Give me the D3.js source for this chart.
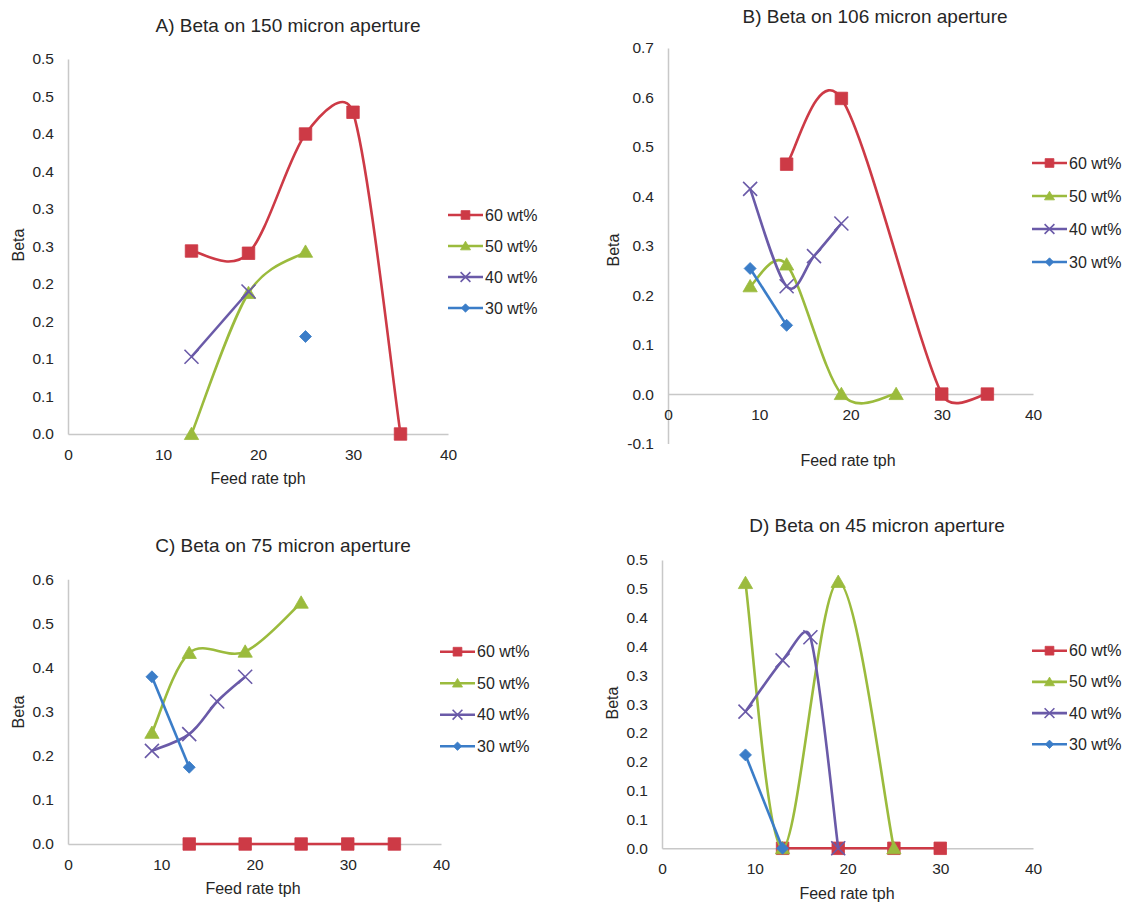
<!DOCTYPE html>
<html>
<head>
<meta charset="utf-8">
<script src="https://cdn.jsdelivr.net/npm/d3@7"></script>
<style>
  body { margin: 0; background: #fff; }
  svg text { font-family: "Liberation Sans", Arial, sans-serif; fill: #262626; }
</style>
</head>
<body>
<svg id="chart" width="1135" height="903"></svg>
<script>
// ---- shared categories ----
const seriesNames = ["60 wt%", "50 wt%", "40 wt%", "30 wt%"];
const xTickValues = [0, 10, 20, 30, 40];

// ---- A) 150 micron aperture ----
const A_feed60 = [13, 19, 25, 30, 35];
const A_beta60 = [0.244, 0.241, 0.400, 0.429, 0.0];
const A_feed50 = [13, 19, 25];
const A_beta50 = [0.0, 0.188, 0.243];
const A_feed40 = [13, 19];
const A_beta40 = [0.103, 0.190];
const A_feed30 = [25];
const A_beta30 = [0.130];
const A_yTicks = [0, 0.05, 0.1, 0.15, 0.2, 0.25, 0.3, 0.35, 0.4, 0.45, 0.5];
const A_yLabels = ["0.0", "0.1", "0.1", "0.2", "0.2", "0.3", "0.3", "0.4", "0.4", "0.5", "0.5"];

// ---- B) 106 micron aperture ----
const B_feed60 = [13, 19, 30, 35];
const B_beta60 = [0.465, 0.598, 0.0, 0.0];
const B_feed50 = [9, 13, 19, 25];
const B_beta50 = [0.218, 0.262, 0.0, 0.0];
const B_feed40 = [9, 13, 16, 19];
const B_beta40 = [0.415, 0.218, 0.279, 0.345];
const B_feed30 = [9, 13];
const B_beta30 = [0.254, 0.139];
const B_yTicks = [-0.1, 0, 0.1, 0.2, 0.3, 0.4, 0.5, 0.6, 0.7];
const B_yLabels = ["-0.1", "0.0", "0.1", "0.2", "0.3", "0.4", "0.5", "0.6", "0.7"];

// ---- C) 75 micron aperture ----
const C_feed60 = [13, 19, 25, 30, 35];
const C_beta60 = [0.0, 0.0, 0.0, 0.0, 0.0];
const C_feed50 = [9, 13, 19, 25];
const C_beta50 = [0.252, 0.433, 0.436, 0.547];
const C_feed40 = [9, 13, 16, 19];
const C_beta40 = [0.211, 0.249, 0.323, 0.379];
const C_feed30 = [9, 13];
const C_beta30 = [0.379, 0.174];
const C_yTicks = [0, 0.1, 0.2, 0.3, 0.4, 0.5, 0.6];
const C_yLabels = ["0.0", "0.1", "0.2", "0.3", "0.4", "0.5", "0.6"];

// ---- D) 45 micron aperture ----
const D_feed60 = [13, 19, 25, 30];
const D_beta60 = [0.0, 0.0, 0.0, 0.0];
const D_feed50 = [9, 13, 19, 25];
const D_beta50 = [0.46, 0.0, 0.462, 0.0];
const D_feed40 = [9, 13, 16, 19];
const D_beta40 = [0.237, 0.326, 0.366, 0.0];
const D_feed30 = [9, 13];
const D_beta30 = [0.162, 0.0];
const D_yTicks = [0, 0.05, 0.1, 0.15, 0.2, 0.25, 0.3, 0.35, 0.4, 0.45, 0.5];
const D_yLabels = ["0.0", "0.1", "0.1", "0.2", "0.2", "0.3", "0.3", "0.4", "0.4", "0.5", "0.5"];

// ---- styling per series ----
const colors = ["#cd3a46", "#9bbb3d", "#6a5aa8", "#3b7dc8"];
const markerTypes = ["square", "triangle", "x", "diamond"];

// ---- panel layout ----
const panels = [
  { title: "A) Beta on 150 micron aperture",
    feeds: [A_feed60, A_feed50, A_feed40, A_feed30], betas: [A_beta60, A_beta50, A_beta40, A_beta30],
    yTicks: A_yTicks, yLabels: A_yLabels, yDomain: [0, 0.5],
    x0: 68, x1: 448, yBottom: 434, yTop: 59,
    titleX: 288, titleY: 25, betaX: 18, betaY: 245, feedX: 258, feedY: 478,
    legX: 448, legY: 215, legDy: 31 },
  { title: "B) Beta on 106 micron aperture",
    feeds: [B_feed60, B_feed50, B_feed40, B_feed30], betas: [B_beta60, B_beta50, B_beta40, B_beta30],
    yTicks: B_yTicks, yLabels: B_yLabels, yDomain: [-0.1, 0.7],
    x0: 668, x1: 1033, yBottom: 443.5, yTop: 48,
    titleX: 875, titleY: 16, betaX: 613, betaY: 250, feedX: 848, feedY: 460,
    legX: 1032, legY: 163, legDy: 33 },
  { title: "C) Beta on 75 micron aperture",
    feeds: [C_feed60, C_feed50, C_feed40, C_feed30], betas: [C_beta60, C_beta50, C_beta40, C_beta30],
    yTicks: C_yTicks, yLabels: C_yLabels, yDomain: [0, 0.6],
    x0: 68, x1: 441, yBottom: 844, yTop: 579.3,
    titleX: 283, titleY: 545, betaX: 18, betaY: 712, feedX: 253, feedY: 888,
    legX: 440, legY: 651.7, legDy: 31.5 },
  { title: "D) Beta on 45 micron aperture",
    feeds: [D_feed60, D_feed50, D_feed40, D_feed30], betas: [D_beta60, D_beta50, D_beta40, D_beta30],
    yTicks: D_yTicks, yLabels: D_yLabels, yDomain: [0, 0.5],
    x0: 662, x1: 1033, yBottom: 848.3, yTop: 560,
    titleX: 877, titleY: 525, betaX: 612, betaY: 703, feedX: 847, feedY: 893,
    legX: 1032, legY: 650.7, legDy: 31.2 }
];

const svg = d3.select("#chart");

function markerPath(type, s) {
  const h = s / 2;
  switch (type) {
    case "square": return `M${-h},${-h}H${h}V${h}H${-h}Z`;
    case "triangle": return `M0,${-h * 1.05}L${h * 1.1},${h * 0.85}L${-h * 1.1},${h * 0.85}Z`;
    case "diamond": return `M0,${-h}L${h},0L0,${h}L${-h},0Z`;
    case "x": return `M${-h},${-h}L${h},${h}M${-h},${h}L${h},${-h}`;
  }
}

function drawMarker(g, type, color, cx, cy, s) {
  const p = g.append("path")
    .attr("d", markerPath(type, s))
    .attr("transform", `translate(${cx},${cy})`);
  if (type === "x") {
    p.attr("fill", "none").attr("stroke", color).attr("stroke-width", 1.6);
  } else {
    p.attr("fill", color).attr("stroke", color).attr("stroke-width", 0.8);
  }
}

const sizes = { square: 12.5, triangle: 13, x: 14, diamond: 12 };

// Smoothed line through screen points: Catmull-Rom style tangents (1/6 of the
// neighbour chord) with each handle limited to half of its own segment, so a
// short segment next to a long one does not overshoot much.
function smoothPath(pts) {
  const path = d3.path();
  const n = pts.length;
  path.moveTo(pts[0][0], pts[0][1]);
  if (n === 2) { path.lineTo(pts[1][0], pts[1][1]); return path.toString(); }
  const dist = (a, b) => Math.hypot(b[0] - a[0], b[1] - a[1]);
  const tan = pts.map((p, i) => {
    const a = pts[Math.max(0, i - 1)], b = pts[Math.min(n - 1, i + 1)];
    return [(b[0] - a[0]) / 6, (b[1] - a[1]) / 6];
  });
  const handle = (i, segLen) => {
    const t = tan[i], len = Math.hypot(t[0], t[1]);
    if (len === 0) return [0, 0];
    const k = Math.min(len, 0.5 * segLen) / len;
    return [t[0] * k, t[1] * k];
  };
  for (let i = 0; i < n - 1; i++) {
    const p0 = pts[i], p1 = pts[i + 1];
    const seg = dist(p0, p1);
    const h0 = handle(i, seg), h1 = handle(i + 1, seg);
    path.bezierCurveTo(p0[0] + h0[0], p0[1] + h0[1], p1[0] - h1[0], p1[1] - h1[1], p1[0], p1[1]);
  }
  return path.toString();
}

panels.forEach(p => {
  const x = d3.scaleLinear().domain([0, 40]).range([p.x0, p.x1]);
  const y = d3.scaleLinear().domain(p.yDomain).range([p.yBottom, p.yTop]);
  const g = svg.append("g");

  // title
  g.append("text")
    .attr("x", p.titleX).attr("y", p.titleY)
    .attr("text-anchor", "middle").attr("dominant-baseline", "central")
    .style("font-size", "19px").text(p.title);

  // vertical axis
  const yAxis = d3.axisLeft(y)
    .tickValues(p.yTicks)
    .tickFormat((d, i) => p.yLabels[i])
    .tickSize(0).tickSizeOuter(0).tickPadding(14);
  const ya = g.append("g").attr("transform", `translate(${p.x0},0)`).call(yAxis);
  ya.select(".domain").attr("stroke", "#c8c8c8").attr("stroke-width", 1.5);
  ya.selectAll("text").style("font-size", "15.5px").attr("fill", "#262626");

  // horizontal axis at zero
  const xAxis = d3.axisBottom(x)
    .tickValues(xTickValues)
    .tickSize(0).tickSizeOuter(0).tickPadding(15);
  const xa = g.append("g").attr("transform", `translate(0,${y(0)})`).call(xAxis);
  xa.select(".domain").attr("stroke", "#c8c8c8").attr("stroke-width", 1.5);
  xa.selectAll("text").style("font-size", "15.5px").attr("fill", "#262626");

  // axis titles
  g.append("text")
    .attr("transform", `translate(${p.betaX},${p.betaY}) rotate(-90)`)
    .attr("text-anchor", "middle").attr("dominant-baseline", "central")
    .style("font-size", "16px").text("Beta");
  g.append("text")
    .attr("x", p.feedX).attr("y", p.feedY)
    .attr("text-anchor", "middle").attr("dominant-baseline", "central")
    .style("font-size", "16px").text("Feed rate tph");

  // series lines and markers
  seriesNames.forEach((name, i) => {
    const pts = p.feeds[i].map((f, j) => [x(f), y(p.betas[i][j])]);
    if (pts.length > 1) {
      g.append("path")
        .attr("d", smoothPath(pts))
        .attr("fill", "none")
        .attr("stroke", colors[i])
        .attr("stroke-width", 2.6)
        .attr("stroke-linejoin", "round");
    }
    pts.forEach(d => drawMarker(g, markerTypes[i], colors[i], d[0], d[1], sizes[markerTypes[i]]));
  });

  // legend
  seriesNames.forEach((name, i) => {
    const ly = p.legY + i * p.legDy;
    g.append("line")
      .attr("x1", p.legX).attr("x2", p.legX + 35)
      .attr("y1", ly).attr("y2", ly)
      .attr("stroke", colors[i]).attr("stroke-width", 2.6);
    drawMarker(g, markerTypes[i], colors[i], p.legX + 17.5, ly, sizes[markerTypes[i]] * 0.7);
    g.append("text")
      .attr("x", p.legX + 37).attr("y", ly)
      .attr("dominant-baseline", "central")
      .style("font-size", "16px").text(name);
  });
});
</script>
</body>
</html>
